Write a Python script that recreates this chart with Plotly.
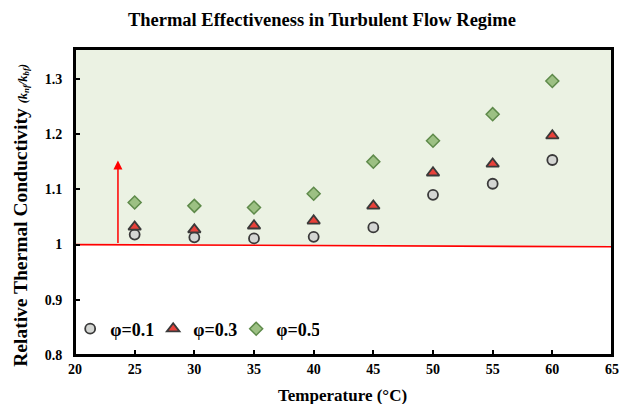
import plotly.graph_objects as go

temps = [25, 30, 35, 40, 45, 50, 55, 60]
phi_01 = [1.018, 1.013, 1.011, 1.014, 1.031, 1.090, 1.110, 1.153]
phi_03 = [1.032, 1.027, 1.034, 1.043, 1.070, 1.130, 1.146, 1.197]
phi_05 = [1.076, 1.070, 1.067, 1.092, 1.150, 1.188, 1.236, 1.296]
labels = ["φ=0.1", "φ=0.3", "φ=0.5"]

x_range = [20, 65]
x_ticks = [20, 25, 30, 35, 40, 45, 50, 55, 60, 65]
y_range = [0.8, 1.354]
y_ticks = [0.8, 0.9, 1.0, 1.1, 1.2, 1.3]
y_ticktext = ["0.8", "0.9", "1", "1.1", "1.2", "1.3"]
ref_x = [20, 65]
ref_y = [1.0, 0.996]
arrow_x = 23.6
arrow_y = [1.0, 1.152]

font_family = "Liberation Serif"

fig = go.Figure()

# shaded region above reference line
fig.add_trace(go.Scatter(
    x=[ref_x[0], ref_x[1], ref_x[1], ref_x[0], ref_x[0]],
    y=[ref_y[0], ref_y[1], y_range[1], y_range[1], ref_y[0]],
    fill="toself", fillcolor="#ebf2e3", line=dict(width=0),
    mode="lines", showlegend=False, hoverinfo="skip"))

# reference red line
fig.add_trace(go.Scatter(x=ref_x, y=ref_y, mode="lines",
                         line=dict(color="#ff0000", width=1.7),
                         showlegend=False, hoverinfo="skip"))

fig.add_trace(go.Scatter(x=temps, y=phi_01, mode="markers", name=labels[0],
    marker=dict(symbol="circle", size=10, color="#d4d6d3",
                line=dict(color="#3a3a3a", width=1.8))))
fig.add_trace(go.Scatter(x=temps, y=phi_03, mode="markers", name=labels[1],
    marker=dict(symbol="triangle-up", size=11, color="#e8413a",
                line=dict(color="#3a3a3a", width=1.8))))
fig.add_trace(go.Scatter(x=temps, y=phi_05, mode="markers", name=labels[2],
    marker=dict(symbol="diamond", size=10, color="#9cc083",
                line=dict(color="#5e8a4a", width=1.5))))

fig.add_annotation(x=arrow_x, y=arrow_y[1], ax=arrow_x, ay=arrow_y[0],
                   xref="x", yref="y", axref="x", ayref="y",
                   showarrow=True, arrowhead=2, arrowsize=1.2, arrowwidth=1.5,
                   arrowcolor="#ff0000", text="")

# y-axis title as rotated annotation
fig.add_annotation(
    text="<b>Relative Thermal Conductivity </b><i><b><span style='font-size:12.5px'>(k<sub>nf</sub>/k<sub>bf</sub>)</span></b></i>",
    xref="paper", yref="paper", x=-0.1, y=0.456, xanchor="center", yanchor="middle",
    textangle=-90, showarrow=False, font=dict(size=19.5, family=font_family, color="black"))

# x-axis title as annotation
fig.add_annotation(
    text="<b>Temperature (°C)</b>",
    xref="paper", yref="paper", x=0.499, y=-0.131, xanchor="center", yanchor="middle",
    showarrow=False, font=dict(size=17, family=font_family, color="black"))

# plot frame
fig.add_shape(type="rect", xref="paper", yref="paper", x0=0, x1=1, y0=0, y1=1,
              line=dict(color="black", width=2), layer="above")

fig.update_layout(
    width=619, height=404,
    margin=dict(l=75, r=7, t=49, b=49),
    paper_bgcolor="white", plot_bgcolor="white",
    font=dict(family=font_family, color="black", size=13),
    title=dict(text="<b>Thermal Effectiveness in Turbulent Flow Regime</b>",
               x=0.52, xref="container", xanchor="center",
               y=0.951, yref="container", yanchor="middle",
               font=dict(size=18.5, family=font_family, color="black")),
    legend=dict(orientation="h", x=-0.009, y=0.085, xanchor="left", yanchor="middle",
                bgcolor="rgba(0,0,0,0)",
                font=dict(size=18, family=font_family, weight="bold"),
                entrywidth=38, entrywidthmode="pixels", itemwidth=30,
                tracegroupgap=0),
    showlegend=True,
)

fig.update_xaxes(range=x_range, tickvals=x_ticks, automargin=False,
                 showline=True, linecolor="black", linewidth=2, mirror=True,
                 ticks="inside", ticklen=5, tickwidth=1.5, tickcolor="black",
                 showgrid=False, zeroline=False, ticklabeloverflow="allow",
                 tickfont=dict(size=14, family=font_family, weight="bold"))
fig.update_yaxes(range=y_range, tickvals=y_ticks, ticktext=y_ticktext, automargin=False,
                 showline=True, linecolor="black", linewidth=2, mirror=True,
                 ticks="inside", ticklen=5, tickwidth=1.5, tickcolor="black",
                 showgrid=False, zeroline=False, ticklabelstandoff=8,
                 tickfont=dict(size=14, family=font_family, weight="bold"))

fig.write_html("out.html",
               config={"displayModeBar": False},
               post_script="document.body.style.margin='0';document.body.style.overflow='hidden';")
